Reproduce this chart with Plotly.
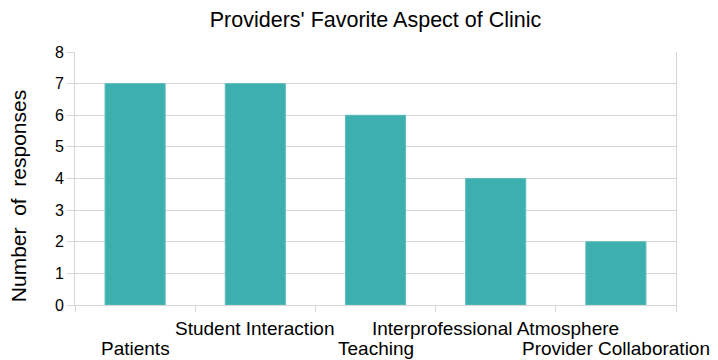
import plotly.graph_objects as go

# Survey responses: providers' favorite aspect of the clinic
categories = [
    "Patients",
    "Student Interaction",
    "Teaching",
    "Interprofessional Atmosphere",
    "Provider Collaboration",
]
responses = [7, 7, 6, 4, 2]
y_ticks = [0, 1, 2, 3, 4, 5, 6, 7, 8]

BAR = "#3cafae"
GRID = "#d6d6d6"
FONT = "Liberation Sans, Arial, sans-serif"

fig = go.Figure(
    go.Bar(
        x=categories,
        y=responses,
        width=0.5,
        marker=dict(color=BAR, line=dict(color="#5cbdbc", width=1)),
        showlegend=False,
        hoverinfo="x+y",
    )
)

# Category labels alternate between two rows so the long names don't collide
for i, name in enumerate(categories):
    lower = i % 2 == 0
    fig.add_annotation(
        x=name,
        xref="x",
        yref="paper",
        y=0,
        yshift=-31 if lower else -11,
        text=name,
        showarrow=False,
        xanchor="center",
        yanchor="top",
        font=dict(family=FONT, size=19, color="#000"),
    )

# Vertical axis title
fig.add_annotation(
    text="Number\u00a0 of\u00a0 responses",
    xref="paper",
    yref="paper",
    x=0,
    y=0.43,
    xshift=-57,
    textangle=-90,
    showarrow=False,
    xanchor="center",
    yanchor="middle",
    font=dict(family=FONT, size=21, color="#000"),
)

fig.update_layout(
    width=718,
    height=360,
    margin=dict(l=75, r=42, t=52, b=55),
    paper_bgcolor="white",
    plot_bgcolor="white",
    font=dict(family=FONT, color="#000"),
    title=dict(
        text="Providers' Favorite Aspect of Clinic",
        x=0.523,
        xanchor="center",
        y=0.945,
        yanchor="middle",
        font=dict(family=FONT, size=21.5, color="#000"),
    ),
    bargap=0.5,
)

fig.update_xaxes(
    type="category",
    tickson="boundaries",
    ticks="outside",
    ticklen=6,
    tickcolor=GRID,
    showticklabels=False,
    showgrid=False,
    showline=True,
    linecolor=GRID,
    linewidth=1,
    mirror=False,
    range=[-0.5, len(categories) - 0.5],
)

fig.update_yaxes(
    range=[0, 8],
    tickvals=y_ticks,
    ticks="outside",
    ticklen=7,
    tickcolor=GRID,
    tickfont=dict(family=FONT, size=16, color="#000"),
    showgrid=True,
    gridcolor=GRID,
    gridwidth=1,
    showline=True,
    linecolor=GRID,
    mirror=True,
    zeroline=False,
)

fig.write_html("out.html")
